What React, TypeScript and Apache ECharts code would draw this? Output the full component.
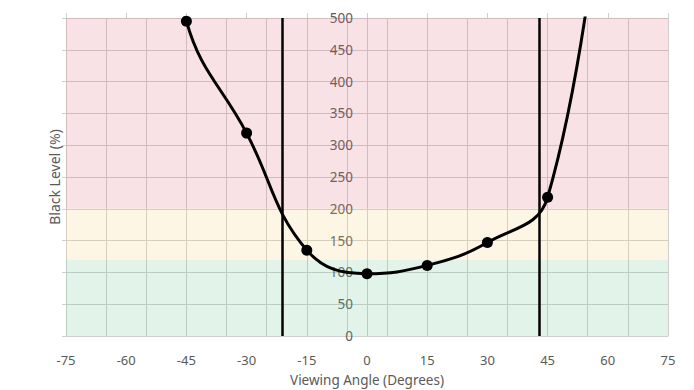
import React, { useEffect, useRef } from "react";
import * as echarts from "echarts";

// Measured black level vs viewing angle (points at -60 / 60 are off-scale, no marker)
const angles = [-60, -45, -30, -15, 0, 15, 30, 45, 60];
const blackLevel = [1000, 495, 319, 135, 98, 111, 147, 218, 800];
const hiddenMarkers = [-60, 60];

// Vertical reference lines (degrees)
const refAngles = [-21, 43];

// Background bands [from, to]
const bandRanges: [number, number][] = [
  [0, 120],
  [120, 200],
  [200, 500],
];
const bandColors = [
  "rgba(110, 200, 150, 0.2)",
  "rgba(245, 210, 120, 0.2)",
  "rgba(225, 110, 125, 0.2)",
];

const xTicks = { min: -75, max: 75, step: 15 };
const xGridStep = 10;
const yTicks = { min: 0, max: 500, step: 50 };

const TEXT = "#595959";
const GRID = "#cfcfcf";
const FONT = "Noto Sans";

export default function App() {
  const ref = useRef<HTMLDivElement>(null);

  useEffect(() => {
    document.body.style.margin = "0";
    if (!ref.current) return;
    const chart = echarts.init(ref.current, null, { renderer: "svg" });

    const seriesData = angles.map((a, i) => {
      const item: any = { value: [a, blackLevel[i]] };
      if (hiddenMarkers.includes(a)) item.symbol = "none";
      return item;
    });

    chart.setOption({
      animation: false,
      textStyle: { fontFamily: FONT },
      grid: {
        left: 66,
        right: 26,
        top: 18,
        bottom: 54,
        containLabel: false,
        outerBoundsMode: "none",
      },
      xAxis: [
        {
          type: "value",
          position: "bottom",
          min: xTicks.min,
          max: xTicks.max,
          interval: xTicks.step,
          name: "Viewing Angle (Degrees)",
          nameLocation: "middle",
          nameGap: 36,
          nameMoveOverlap: false,
          nameTextStyle: { color: TEXT, fontSize: 13.5, lineHeight: 15, fontFamily: FONT },
          axisLine: { show: true, onZero: false, lineStyle: { color: GRID } },
          axisTick: { show: false },
          axisLabel: { color: TEXT, fontSize: 13, lineHeight: 14, margin: 17, fontFamily: FONT },
          splitLine: { show: false },
        },
        {
          type: "value",
          position: "top",
          min: xTicks.min,
          max: xTicks.max,
          interval: xTicks.step,
          axisLine: { show: true, onZero: false, lineStyle: { color: GRID } },
          axisTick: { show: true, inside: false, length: 5, lineStyle: { color: GRID } },
          axisLabel: { show: false },
          splitLine: { show: false },
        },
        {
          type: "value",
          position: "bottom",
          min: xTicks.min,
          max: xTicks.max,
          interval: xGridStep,
          axisLine: { show: false, onZero: false },
          axisTick: { show: false },
          axisLabel: { show: false },
          splitLine: { show: true, lineStyle: { color: GRID, width: 1 } },
        },
      ],
      yAxis: [
        {
          type: "value",
          position: "left",
          min: yTicks.min,
          max: yTicks.max,
          interval: yTicks.step,
          name: "Black Level (%)",
          nameLocation: "middle",
          nameGap: 5,
          nameMoveOverlap: false,
          nameTextStyle: { color: TEXT, fontSize: 14, fontFamily: FONT },
          axisLine: { show: true, onZero: false, lineStyle: { color: GRID } },
          axisTick: { show: true, inside: false, length: 4, lineStyle: { color: GRID } },
          axisLabel: { show: false },
          splitLine: { show: true, lineStyle: { color: GRID, width: 1 } },
        },
        {
          type: "value",
          position: "left",
          offset: -301,
          min: yTicks.min,
          max: yTicks.max,
          interval: yTicks.step,
          axisLine: { show: true, onZero: false, lineStyle: { color: GRID } },
          axisTick: { show: false },
          axisLabel: { color: TEXT, fontSize: 13.5, margin: 14, fontFamily: FONT },
          splitLine: { show: false },
        },
      ],
      series: [
        {
          type: "line",
          xAxisIndex: 0,
          yAxisIndex: 0,
          data: seriesData,
          smooth: 0.42,
          clip: true,
          symbol: "circle",
          symbolSize: 11,
          itemStyle: { color: "#000" },
          lineStyle: { color: "#000", width: 3 },
          silent: true,
          markArea: {
            silent: true,
            data: bandRanges.map(([a, b], i) => [
              { yAxis: a, itemStyle: { color: bandColors[i] } },
              { yAxis: b },
            ]),
          },
          markLine: {
            silent: true,
            symbol: ["none", "none"],
            label: { show: false },
            lineStyle: { color: "#000", width: 2.5, type: "solid" },
            data: refAngles.map((a) => ({ xAxis: a })),
          },
        },
      ],
    });

    return () => chart.dispose();
  }, []);

  return <div ref={ref} style={{ width: 694, height: 390 }} />;
}
